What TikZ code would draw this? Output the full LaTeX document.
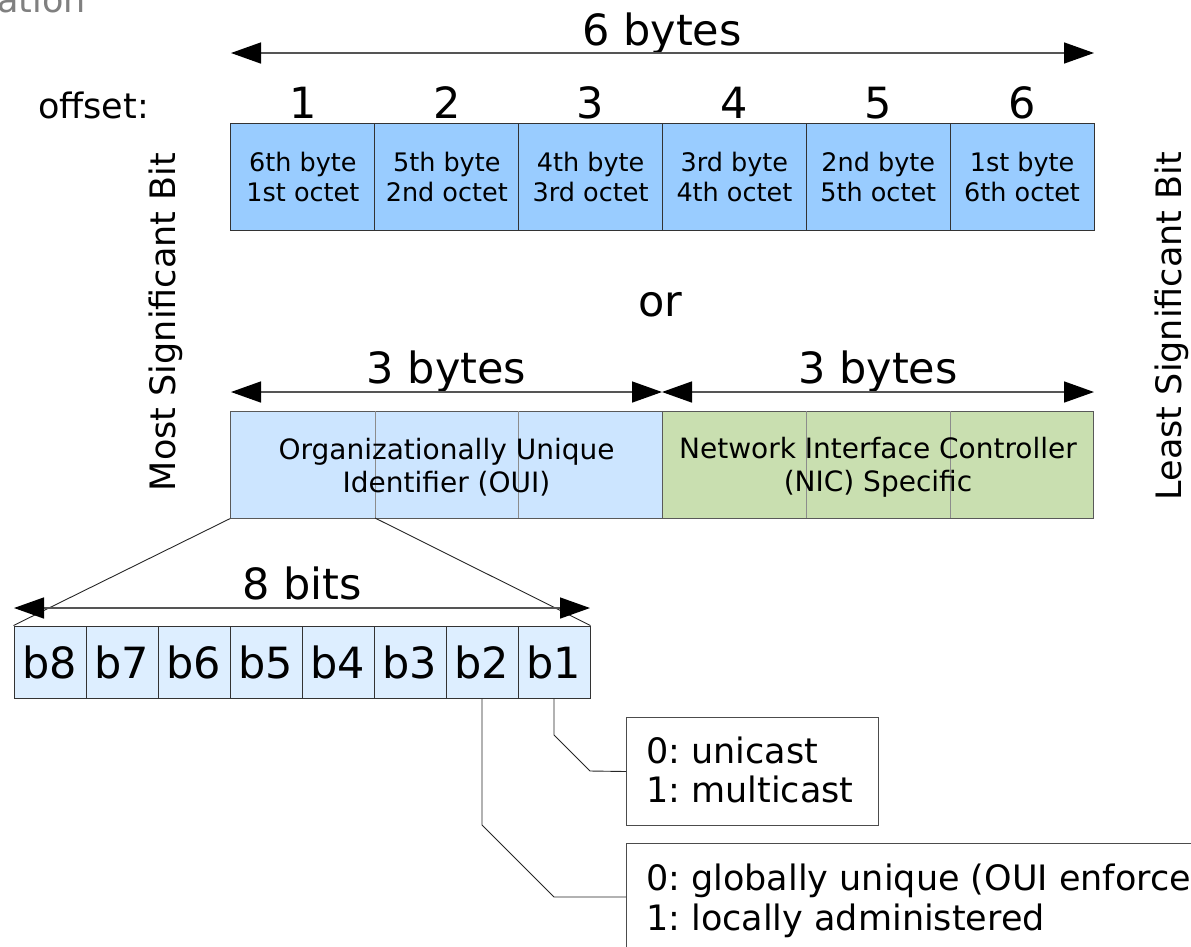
\documentclass[tikz,border=0pt]{standalone}
\usepackage{fontspec}
\setmainfont{DejaVu Sans}
\usetikzlibrary{arrows.meta}
\newcommand\szbig{\fontsize{43}{50}\selectfont}
\newcommand\szlab{\fontsize{35}{42}\selectfont}
\newcommand\szcell{\fontsize{25.5}{30}\selectfont}
\newcommand\szoui{\fontsize{28}{33}\selectfont}
\newcommand\szbox{\fontsize{35}{39}\selectfont\frenchspacing}
\definecolor{topblue}{HTML}{99CCFF}
\definecolor{ouiblue}{HTML}{CCE5FF}
\definecolor{nicgreen}{HTML}{C9DFB0}
\definecolor{bitblue}{HTML}{DDEEFF}
\definecolor{linegrey}{HTML}{555555}
\definecolor{capgrey}{HTML}{808080}
\begin{document}
\begin{tikzpicture}[x=1pt,y=-1pt,
  bytecell/.style={draw=black!80, fill=topblue, line width=1pt, minimum width=143.83pt, minimum height=107pt, inner sep=0pt, align=center, font=\szcell},
  halfbox/.style={draw=black!65, line width=1pt, minimum width=431.5pt, minimum height=107pt, inner sep=0pt},
  bitcell/.style={draw=black!80, fill=bitblue, line width=1pt, minimum width=72pt, minimum height=72pt, inner sep=0pt, font=\szbig},
  infobox/.style={draw=black!70, line width=1pt, anchor=north west, inner sep=0pt},
  boxline/.style={inner sep=0pt, anchor=base west, font=\szbox},
  dimarrow/.style={draw=linegrey, line width=1.5pt, {Triangle[length=30pt,width=21pt,color=black,fill=black]}-{Triangle[length=30pt,width=21pt,color=black,fill=black]}},
  lbl/.style={inner sep=0pt, anchor=base},
  gridline/.style={draw=black!45, line width=0.9pt},
  fanline/.style={draw=black!85, line width=0.9pt}
]
\useasboundingbox (0,0) rectangle (1191,946);

% partial caption at top-left
\node[lbl, anchor=base west, text=capgrey, font=\szlab] (cap) at (-3,12) {ation};

% 6 bytes
\node[lbl, font=\szbig] (sixb) at (662,45) {6 bytes};
\coordinate (sixl) at (231,53);
\coordinate (sixr) at (1094,53);
\draw[dimarrow] (sixl) -- (sixr);

\node[lbl, anchor=base west, font=\szlab] (offs) at (38,118) {offset:};

\node[bytecell] (c1) at (302.9,176.5) {6th byte\\1st octet};
\node[bytecell] (c2) at (446.8,176.5) {5th byte\\2nd octet};
\node[bytecell] (c3) at (590.6,176.5) {4th byte\\3rd octet};
\node[bytecell] (c4) at (734.4,176.5) {3rd byte\\4th octet};
\node[bytecell] (c5) at (878.3,176.5) {2nd byte\\5th octet};
\node[bytecell] (c6) at (1022.1,176.5) {1st byte\\6th octet};

\node[lbl, font=\szbig] (o1) at (302.9,118) {1};
\node[lbl, font=\szbig] (o2) at (446.8,118) {2};
\node[lbl, font=\szbig] (o3) at (590.6,118) {3};
\node[lbl, font=\szbig] (o4) at (734.4,118) {4};
\node[lbl, font=\szbig] (o5) at (878.3,118) {5};
\node[lbl, font=\szbig] (o6) at (1022.1,118) {6};

% side labels
\node[lbl, font=\szlab, rotate=90] (msb) at (175,322) {Most Significant Bit};
\node[lbl, font=\szlab, rotate=90] (lsb) at (1181,326) {Least Significant Bit};

\node[lbl, font=\szbig] (or) at (660,316) {or};

% 3 bytes + 3 bytes
\node[lbl, font=\szbig] (threea) at (446.5,383) {3 bytes};
\node[lbl, font=\szbig] (threeb) at (878,383) {3 bytes};
\coordinate (tl) at (231,392);
\coordinate (tm) at (662,392);
\coordinate (tr) at (1094,392);
\draw[dimarrow] (tl) -- (tm);
\draw[dimarrow] (tm) -- (tr);

\node[halfbox, fill=ouiblue] (oui) at (446.5,464.5) {};
\node[halfbox, fill=nicgreen] (nic) at (878,464.5) {};
\coordinate (ouisplit) at (375,518);
\draw[gridline] (375,411) -- (ouisplit);
\draw[gridline] (518,411) -- (518,518);
\draw[gridline] (806,411) -- (806,518);
\draw[gridline] (950,411) -- (950,518);
\node[font=\szoui, align=center] (ouit) at (446.5,467.5) {Organizationally Unique\\Identifier (OUI)};
\node[font=\szoui, align=center] (nict) at (878,467.5) {Network Interface Controller\\(NIC) Specific};

% 8 bits
\node[lbl, font=\szbig] (eightb) at (302,599) {8 bits};
\coordinate (bl) at (14,608);
\coordinate (br) at (590,608);

\node[bitcell] (b8) at (50,662) {b8};
\node[bitcell] (b7) at (122,662) {b7};
\node[bitcell] (b6) at (194,662) {b6};
\node[bitcell] (b5) at (266,662) {b5};
\node[bitcell] (b4) at (338,662) {b4};
\node[bitcell] (b3) at (410,662) {b3};
\node[bitcell] (b2) at (482,662) {b2};
\node[bitcell] (b1) at (554,662) {b1};

\draw[fanline] (oui.south west) -- (b8.north west);
\draw[fanline] (ouisplit) -- (b1.north east);
\draw[dimarrow] (bl) -- (br);

% info boxes
\node[infobox, minimum width=252pt, minimum height=108pt] (uni) at (626,717) {};
\node[boxline] (uni1) at (646,763) {0: unicast};
\node[boxline] (uni2) at (646,802) {1: multicast};
\node[infobox, minimum width=640pt, minimum height=130pt] (glob) at (626,843) {};
\node[boxline] (glob1) at (646,890) {0: globally unique (OUI enforced)};
\node[boxline] (glob2) at (646,930) {1: locally administered};

\draw[fanline] (b1.south) -- (554,735) -- (590,771) -- (uni.west);
\draw[fanline] (b2.south) -- (482,825) -- (554,897) -- (glob.west |- 0,897);
\end{tikzpicture}
\end{document}
